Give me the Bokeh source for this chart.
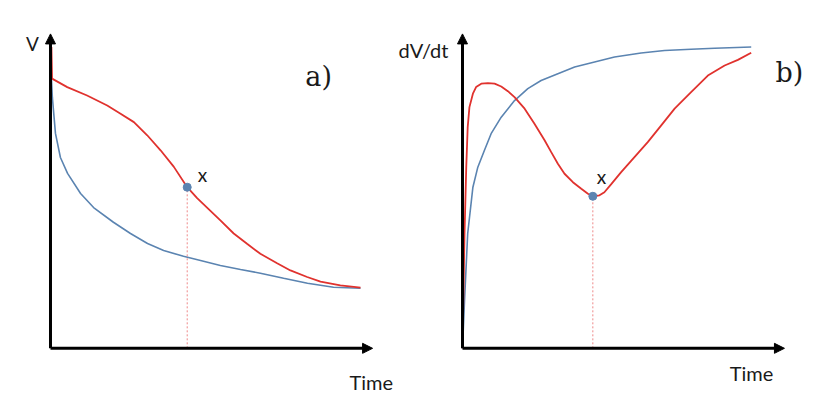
from bokeh.plotting import figure
from bokeh.models import Range1d, Label, Arrow, NormalHead
from bokeh.embed import file_html
from bokeh.resources import INLINE

# ---- data ----
# panel a): V vs time
a_red_t = [0.3, 0.5, 5.4, 11.8, 18.3, 22.6, 26.9, 31.2, 35.5, 39.8, 44.1, 47.3, 50.5, 54.8,
           59.1, 63.4, 67.7, 73.1, 77.4, 82.8, 87.1, 93.5, 100]
a_red_v = [96.3, 86.2, 83.5, 80.8, 77.6, 75.0, 72.3, 68.1, 63.3, 58.0, 51.5, 48.0, 45.0, 40.9,
           36.7, 33.4, 30.2, 27.2, 24.9, 22.8, 21.3, 20.1, 19.4]
a_blue_t = [0.3, 0.6, 1.6, 3.2, 5.5, 9.7, 13.9, 20.3, 25.8, 31.3, 36.5, 42.9, 48.4, 54.8,
            61.3, 67.7, 75.2, 82.9, 91.3, 100]
a_blue_v = [86.3, 80.2, 68.7, 61.0, 55.9, 49.5, 45.0, 40.3, 36.7, 33.5, 31.3, 29.4, 28.1, 26.5,
            25.2, 24.0, 22.4, 20.8, 19.5, 19.2]
a_point_t = [44.1]
a_point_v = [51.5]

# panel b): dV/dt vs time
b_red_t = [0, 0.7, 1.3, 1.8, 2.4, 3.6, 4.7, 6.5, 8.8, 11.1, 13.4, 15.7, 18.0, 21.5, 24.9,
           28.4, 30.7, 33.0, 35.3, 38.2, 41.1, 43.4, 45.1, 47.4, 49.1, 51.4, 54.9, 59.5,
           64.1, 68.7, 73.4, 79.1, 84.9, 90.7, 95.3, 99.9]
b_red_v = [0, 36.6, 57.9, 70.7, 77.1, 81.4, 83.5, 84.6, 84.8, 84.6, 83.7, 82.2, 80.3, 76.6, 71.8,
           66.5, 62.7, 59.0, 55.8, 53.1, 51.0, 49.4, 48.6, 48.9, 49.9, 52.4, 56.3, 61.1,
           65.9, 71.2, 76.6, 81.9, 87.2, 90.4, 92.2, 94.5]
b_blue_t = [0, 0.7, 1.8, 3.6, 5.3, 7.6, 9.9, 13.4, 18.0, 22.6, 27.2, 33.0, 38.8, 45.7,
            52.6, 61.8, 69.9, 79.1, 87.2, 99.9]
b_blue_v = [0, 15.3, 36.7, 51.5, 57.9, 63.3, 68.6, 73.9, 79.2, 83.0, 85.6, 87.8, 89.9, 91.5,
            93.1, 94.4, 95.2, 95.6, 95.9, 96.3]
b_point_t = [45.1]
b_point_v = [48.6]

RED = "#e0322e"
BLUE = "#5b84b1"
DASH = "#ee8888"
SANS = "Lato"
SERIF = "DejaVu Serif"

p = figure(width=820, height=401, output_backend="svg", toolbar_location=None,
           x_axis_location=None, y_axis_location=None,
           x_range=Range1d(-16.129, 248.387), y_range=Range1d(-17.0, 111.18),
           min_border=0, min_border_left=0, min_border_right=0,
           min_border_top=0, min_border_bottom=0)
p.extra_x_ranges = {"b": Range1d(-159.86, 123.875)}
p.grid.visible = False
p.outline_line_color = None
p.background_fill_color = "white"
p.border_fill_color = "white"

# ---- panel a ----
p.line(a_blue_t, a_blue_v, line_color=BLUE, line_width=1.6)
p.line(a_red_t, a_red_v, line_color=RED, line_width=1.8)
p.segment(x0=a_point_t, y0=[0], x1=a_point_t, y1=a_point_v,
          line_color=DASH, line_width=1, line_dash="2 2")
p.scatter(a_point_t, a_point_v, size=8, color=BLUE)

# ---- panel b ----
p.line(b_blue_t, b_blue_v, line_color=BLUE, line_width=1.6, x_range_name="b")
p.line(b_red_t, b_red_v, line_color=RED, line_width=1.8, x_range_name="b")
p.segment(x0=b_point_t, y0=[0], x1=b_point_t, y1=b_point_v,
          line_color=DASH, line_width=1, line_dash="2 2", x_range_name="b")
p.scatter(b_point_t, b_point_v, size=8, color=BLUE, x_range_name="b")

# ---- axes with arrows ----
def axes(xmax, ymax, rn):
    for (xe, ye) in [(0, ymax), (xmax, 0)]:
        p.add_layout(Arrow(end=NormalHead(size=10, fill_color="black", line_color="black", line_width=1),
                           x_start=0, y_start=0, x_end=xe, y_end=ye,
                           line_color="black", line_width=3, x_range_name=rn))

axes(103.9, 100.5, "default")
axes(111.4, 100.5, "b")

def lab(x, y, text, rn, size="19px", font=SANS):
    p.add_layout(Label(x=x, y=y, text=text, x_range_name=rn, text_font=font,
                       text_font_size=size, text_align="center", text_baseline="middle",
                       text_color="#1a1a1a"))

lab(-5.8, 97.3, "V", "default")
lab(103.5, -10.9, "Time", "default", "20px")
lab(86.5, 86.9, "a)", "default", "27px", SERIF)
lab(49.0, 55.5, "x", "default")

lab(-13.5, 95.5, "dV/dt", "b", "20px")
lab(100.0, -7.8, "Time", "b", "20px")
lab(113.1, 88.2, "b)", "b", "27px", SERIF)
lab(48.1, 55.0, "x", "b")

open("out.html", "w").write(file_html(p, INLINE))
